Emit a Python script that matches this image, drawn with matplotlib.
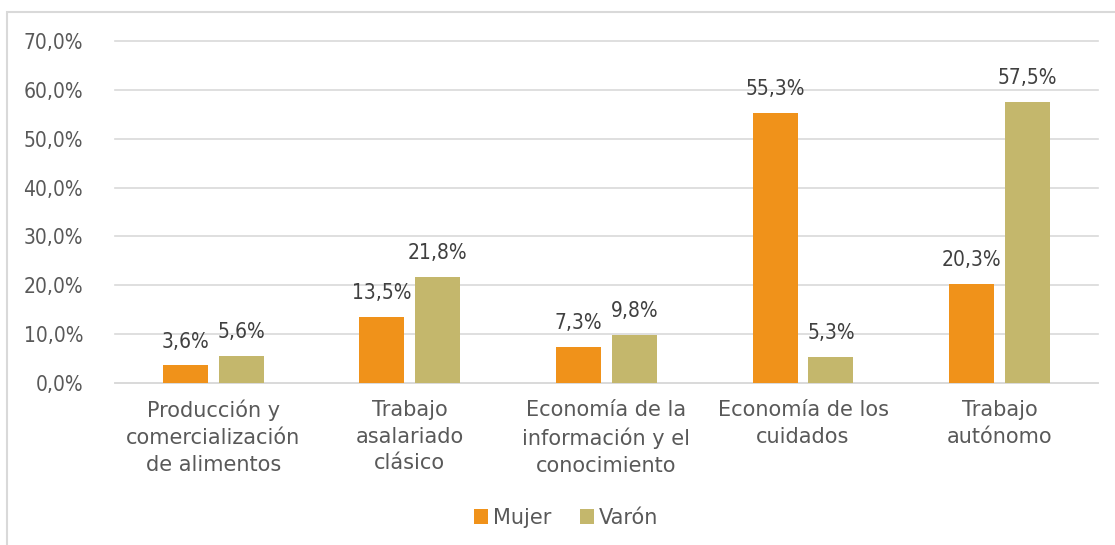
import matplotlib.pyplot as plt
import numpy as np
from matplotlib.patches import Rectangle

categories = ["Producción y\ncomercialización\nde alimentos", "Trabajo\nasalariado\nclásico",
              "Economía de la\ninformación y el\nconocimiento", "Economía de los\ncuidados",
              "Trabajo\nautónomo"]
mujer = [3.6, 13.5, 7.3, 55.3, 20.3]
varon = [5.6, 21.8, 9.8, 5.3, 57.5]
series_names = ["Mujer", "Varón"]
yticks = [0, 10, 20, 30, 40, 50, 60, 70]

text_color = "#595959"
plt.rcParams['font.family'] = ['DejaVu Sans']

fig = plt.figure(figsize=(11.15, 5.45), dpi=100)
# outer chart border (only left/top visible in the reference)
fig.patches.append(Rectangle((0.0065, -0.05), 1.1, 1.028, transform=fig.transFigure,
                             fill=False, edgecolor="#D9D9D9", linewidth=1.5))
ax = fig.add_axes([0.1031, 0.2972, 0.8816, 0.6275])

x = np.arange(len(categories))
w = 0.229
off = 0.142
b1 = ax.bar(x - off, mujer, w, color="#F0921A", label=series_names[0], zorder=3)
b2 = ax.bar(x + off, varon, w, color="#C4B76C", label=series_names[1], zorder=3)

for bars, vals in [(b1, mujer), (b2, varon)]:
    for b, v in zip(bars, vals):
        ax.annotate(f"{v:.1f}%".replace(".", ","), (b.get_x() + b.get_width() / 2, v),
                    xytext=(0, 10), textcoords="offset points", ha="center", va="bottom",
                    fontsize=15, fontstretch="condensed", color="#404040")

ax.set_xlim(-0.5, len(categories) - 0.5)
ax.set_ylim(0, 70)
ax.set_yticks(yticks)
ax.set_yticklabels([f"{t:.1f}%".replace(".", ",") for t in yticks], fontstretch="condensed")
ax.set_xticks(x)
ax.set_xticklabels(categories, linespacing=1.43)
ax.tick_params(axis="both", length=0, labelsize=15, labelcolor=text_color)
ax.tick_params(axis="y", pad=23)
ax.tick_params(axis="x", pad=12)
ax.grid(axis="y", color="#D9D9D9", linewidth=1.2, zorder=0)
for gl in ax.get_ygridlines():
    gl.set_clip_on(False)
for s in ["top", "right", "left"]:
    ax.spines[s].set_visible(False)
ax.spines["bottom"].set_color("#D9D9D9")
ax.spines["bottom"].set_linewidth(1.2)

leg = fig.legend(loc="center", bbox_to_anchor=(0.508, 0.05), ncol=2, frameon=False,
                 fontsize=15, handlelength=0.67, handleheight=0.67, handletextpad=0.25,
                 columnspacing=1.35, labelcolor=text_color)

fig.savefig("out.png", dpi=100)
